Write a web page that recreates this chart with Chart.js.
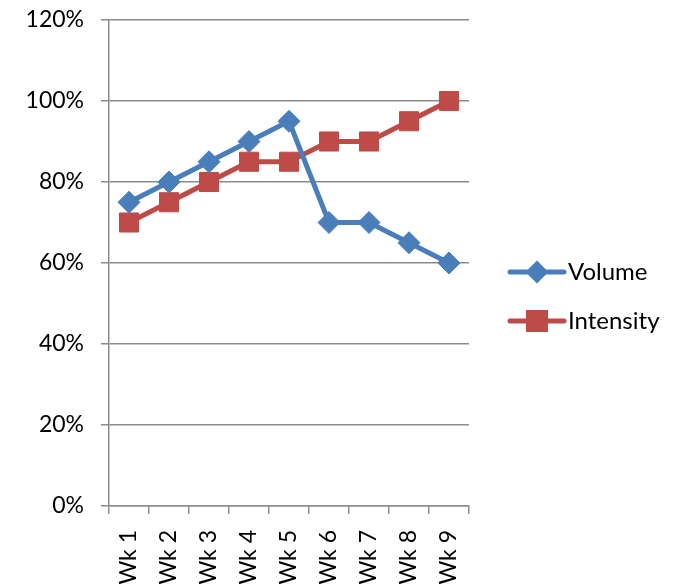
<!DOCTYPE html>
<html>
<head>
<meta charset="utf-8">
<script src="https://cdn.jsdelivr.net/npm/chart.js@4/dist/chart.umd.min.js"></script>
<style>
html,body{margin:0;padding:0;background:#fff;}
#wrap{width:684px;height:584px;position:relative;}
</style>
</head>
<body>
<div id="wrap"><canvas id="c" width="684" height="584"></canvas></div>
<script>
const categories = ["Wk 1","Wk 2","Wk 3","Wk 4","Wk 5","Wk 6","Wk 7","Wk 8","Wk 9"];
const volume = [75, 80, 85, 90, 95, 70, 70, 65, 60];
const intensity = [70, 75, 80, 85, 85, 90, 90, 95, 100];
const seriesNames = ["Volume", "Intensity"];
const yTicks = [0, 20, 40, 60, 80, 100, 120];

const FONT = "Lato, 'Liberation Sans', Arial, sans-serif";
const BLUE = "#4A7EBB";
const RED = "#BE4B48";
const GRID = "#8C8C8C";

const legendPlugin = {
  id: 'sideLegend',
  afterDraw(chart) {
    const ctx = chart.ctx;
    const items = [
      {ds: chart.data.datasets[0], y: 272, r: 8},
      {ds: chart.data.datasets[1], y: 321, r: 12}
    ];
    ctx.save();
    items.forEach(it => {
      const ds = it.ds;
      ctx.strokeStyle = ds.borderColor;
      ctx.lineWidth = ds.borderWidth;
      ctx.lineCap = 'round';
      ctx.beginPath();
      ctx.moveTo(510, it.y);
      ctx.lineTo(564, it.y);
      ctx.stroke();
      ctx.beginPath();
      Chart.helpers.drawPoint(ctx, {
        pointStyle: ds.pointStyle,
        radius: it.r,
        rotation: 0,
        borderWidth: 1
      }, 537, it.y);
      ctx.fillStyle = ds.pointBackgroundColor;
      ctx.fill();
      ctx.fillStyle = '#000';
      ctx.font = '24px ' + FONT;
      ctx.textBaseline = 'middle';
      ctx.textAlign = 'left';
      ctx.fillText(ds.label, 568, it.y);
    });
    ctx.restore();
  }
};

new Chart(document.getElementById('c'), {
  type: 'line',
  data: {
    labels: categories,
    datasets: [
      {
        label: seriesNames[0],
        data: volume,
        borderColor: BLUE,
        backgroundColor: BLUE,
        pointBackgroundColor: BLUE,
        pointBorderColor: BLUE,
        borderWidth: 5,
        pointStyle: 'rectRot',
        pointRadius: 11,
        pointBorderWidth: 1,
        tension: 0
      },
      {
        label: seriesNames[1],
        data: intensity,
        borderColor: RED,
        backgroundColor: RED,
        pointBackgroundColor: RED,
        pointBorderColor: RED,
        borderWidth: 5,
        pointStyle: 'rect',
        pointRadius: 13.5,
        pointBorderWidth: 1,
        tension: 0
      }
    ]
  },
  options: {
    responsive: false,
    animation: false,
    devicePixelRatio: 1,
    layout: { padding: { left: 0, right: 215, top: 20, bottom: 0 } },
    plugins: {
      legend: { display: false },
      tooltip: { enabled: false }
    },
    scales: {
      x: {
        type: 'category',
        offset: true,
        grid: {
          display: true,
          drawOnChartArea: false,
          drawTicks: true,
          tickLength: 8,
          offset: true,
          color: GRID,
          lineWidth: 1.5
        },
        border: { display: true, color: GRID, width: 1.5 },
        ticks: {
          minRotation: 90,
          maxRotation: 90,
          autoSkip: false,
          padding: 16,
          color: '#000',
          font: { family: FONT, size: 23 }
        },
        afterFit(scale) {
          scale.height = 78;
          scale.paddingLeft = 0; scale.paddingRight = 0;
          scale.paddingTop = 0; scale.paddingBottom = 0;
        }
      },
      y: {
        min: 0,
        max: 120,
        afterBuildTicks(scale) { scale.ticks = yTicks.map(v => ({value: v})); },
        grid: {
          color: GRID,
          lineWidth: 1.5,
          drawTicks: true,
          tickLength: 8
        },
        border: { display: true, color: GRID, width: 1.5 },
        ticks: {
          padding: 17,
          color: '#000',
          font: { family: FONT, size: 23 },
          callback: v => v + '%'
        },
        afterFit(scale) {
          scale.width = 109;
          scale.paddingTop = 0; scale.paddingBottom = 0;
          scale.paddingLeft = 0; scale.paddingRight = 0;
        }
      }
    }
  },
  plugins: [legendPlugin]
});
</script>
</body>
</html>
